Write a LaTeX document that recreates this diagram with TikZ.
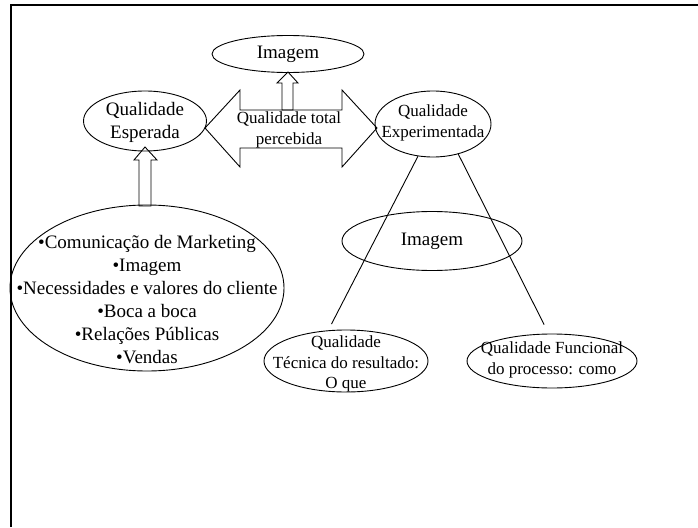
\documentclass[tikz,border=0pt]{standalone}
\usepackage{fontspec}
\setmainfont{Liberation Serif}
\usetikzlibrary{shapes.geometric}

\begin{document}
\begin{tikzpicture}[x=1pt, y=-1pt, line width=0.9pt,
    elipse/.style={draw, ellipse, inner sep=0pt},
    texto/.style={align=center, inner sep=0pt, font=\fontsize{19}{23}\selectfont},
    menor/.style={align=center, inner sep=0pt, font=\fontsize{17}{20.5}\selectfont}]
    \useasboundingbox (0,0) rectangle (698,527);

    % Moldura
    \draw[line width=2.3pt] (11,527) -- (11,5.2) -- (698,5.2);

    % Elipses
    \node[elipse, minimum width=152pt, minimum height=37pt] (imgtopo) at (288,54) {};
    \node[elipse, minimum width=123pt, minimum height=60pt] (esperada) at (145,121) {};
    \node[elipse, minimum width=116pt, minimum height=66pt] (experimentada) at (433,124) {};
    \node[elipse, minimum width=180pt, minimum height=59pt] (imgmeio) at (432,241) {};
    \node[elipse, minimum width=274pt, minimum height=166pt] (fontes) at (147,288) {};
    \node[elipse, minimum width=164pt, minimum height=62pt] (tecnica) at (346,361) {};
    \node[elipse, minimum width=170pt, minimum height=54pt] (funcional) at (552,361) {};

    % Textos das elipses
    \node[texto] (imgtopotxt) at (imgtopo) {Imagem};
    \node[texto] (esperadatxt) at (145,122) {Qualidade\\Esperada};
    \node[menor] (experimentadatxt) at (433,123) {Qualidade\\Experimentada};
    \node[texto] (imgmeiotxt) at (imgmeio) {Imagem};
    \node[menor] (tecnicatxt) at (346,364) {Qualidade\\Técnica do resultado:\\O que};
    \node[menor] (funcionaltxt) at (552,360) {Qualidade Funcional\\do processo: como};
    \node[texto] (fontestxt) at (147,300)
        {\textbullet Comunicação de Marketing\\\textbullet Imagem\\\textbullet Necessidades e valores do cliente\\
         \textbullet Boca a boca\\\textbullet Relações Públicas\\\textbullet Vendas};

    % Seta dupla
    \draw (205,128) -- (240,90) -- (240,110) -- (342,110) -- (342,90) -- (377,128)
        -- (342,167) -- (342,148) -- (240,148) -- (240,167) -- cycle;
    \node[menor] (percebida) at (289,130) {Qualidade total\\percebida};

    % Setas para cima
    \draw (288,72) -- (298,83) -- (293,83) -- (293,110) -- (282,110) -- (282,83) -- (277,83) -- cycle;
    \draw (145,147) -- (157,160) -- (151,160) -- (151,206) -- (139,206) -- (139,160) -- (134,160) -- cycle;

    % Linhas
    \draw[shorten >=7pt] (experimentada.245) -- (tecnica.120);
    \draw[shorten >=10pt] (experimentada.310) -- (funcional.97);
\end{tikzpicture}
\end{document}
